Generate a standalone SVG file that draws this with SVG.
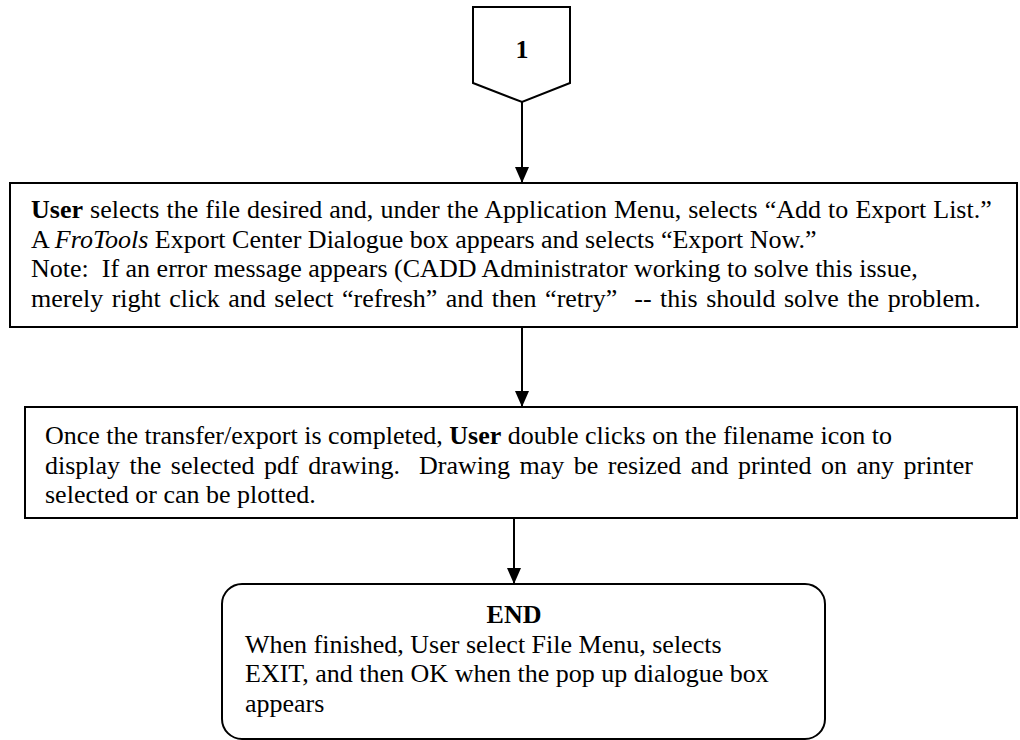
<svg xmlns="http://www.w3.org/2000/svg" width="1020" height="740" viewBox="0 0 1020 740">
<style>
.shape{fill:#fff;stroke:#000;stroke-width:2}
.t{font-family:"Liberation Serif","Times New Roman",serif;font-size:26px;fill:#000}
.b{font-weight:bold}
.line{stroke:#000;stroke-width:2;fill:none}
</style>
<defs>
<marker id="arr" viewBox="0 0 16 14" refX="16" refY="7" markerWidth="16" markerHeight="14" markerUnits="userSpaceOnUse" orient="auto">
<path d="M0,0 L16,7 L0,14 Z" fill="#000"/>
</marker>
</defs>
<g id="node-1">
<polygon class="shape" points="473,7 570,7 570,83 522,102 473,83"/>
<text class="t b" x="522" y="58" text-anchor="middle">1</text>
</g>
<g id="node-export">
<rect class="shape" x="10" y="183" width="1007" height="144"/>
<text class="t" x="31" y="218" word-spacing="0.6"><tspan class="b">User</tspan> selects the file desired and, under the Application Menu, selects “Add to Export List.”</text>
<text class="t" x="31" y="247.5">A <tspan font-style="italic">FroTools</tspan> Export Center Dialogue box appears and selects “Export Now.”</text>
<text class="t" x="31" y="277" xml:space="preserve">Note:  If an error message appears (CADD Administrator working to solve this issue,</text>
<text class="t" x="31" y="306.5" xml:space="preserve" word-spacing="2">merely right click and select “refresh” and then “retry”  -- this should solve the problem.</text>
</g>
<g id="node-display">
<rect class="shape" x="25" y="407" width="992" height="111"/>
<text class="t" x="45" y="444">Once the transfer/export is completed, <tspan class="b">User</tspan> double clicks on the filename icon to</text>
<text class="t" x="45" y="473.5" xml:space="preserve" word-spacing="3">display the selected pdf drawing.  Drawing may be resized and printed on any printer</text>
<text class="t" x="45" y="503">selected or can be plotted.</text>
</g>
<g id="node-end">
<rect class="shape" x="222" y="584" width="603" height="155" rx="20" ry="20"/>
<text class="t b" x="514" y="623" text-anchor="middle">END</text>
<text class="t" x="245" y="652.5">When finished, User select File Menu, selects</text>
<text class="t" x="245" y="682">EXIT, and then OK when the pop up dialogue box</text>
<text class="t" x="245" y="711.5">appears</text>
</g>
<g id="connectors">
<line class="line" x1="522" y1="102" x2="522" y2="183" marker-end="url(#arr)"/>
<line class="line" x1="522" y1="327" x2="522" y2="407" marker-end="url(#arr)"/>
<line class="line" x1="514" y1="518" x2="514" y2="584" marker-end="url(#arr)"/>
</g>
</svg>
